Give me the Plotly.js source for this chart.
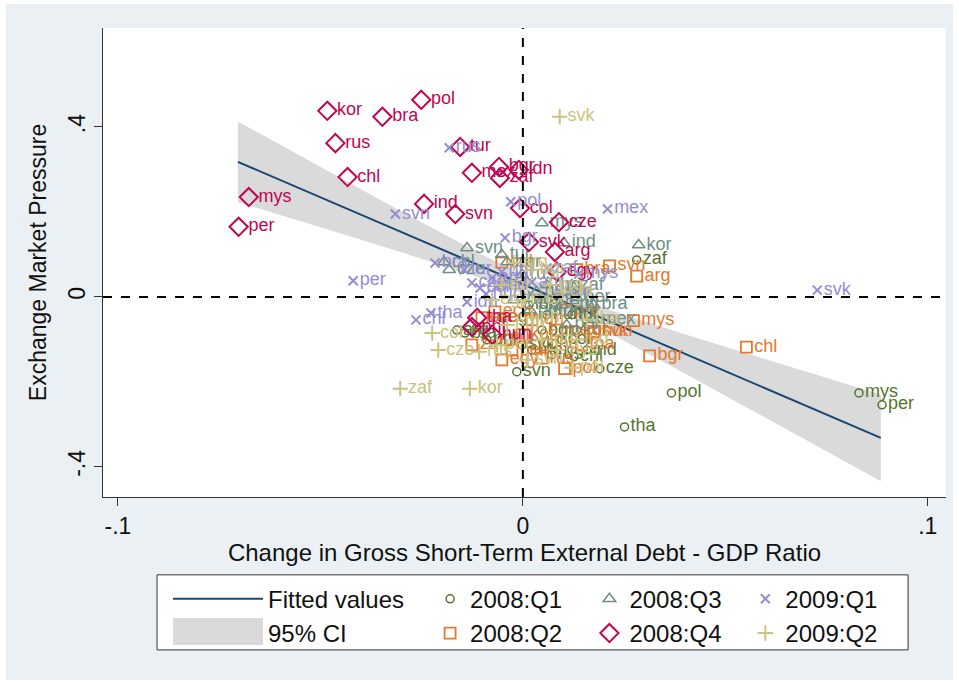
<!DOCTYPE html>
<html><head><meta charset="utf-8">
<script src="https://cdn.plot.ly/plotly-3.0.1.min.js"></script>
<style>html,body{margin:0;padding:0;background:#ffffff;}#chart{position:absolute;left:6px;top:4px;width:947px;height:676px;}</style>
</head><body><div id="chart"></div><script>
// ---- Fitted values and 95% CI ----
const fitX = [-0.0704, 0.0884];
const fitY = [0.318, -0.332];
const ciX  = [-0.0704, -0.05, -0.03, -0.01, 0.005, 0.02, 0.04, 0.06, 0.0884];
const ciHi = [0.413, 0.306, 0.201, 0.099, 0.030, -0.026, -0.088, -0.147, -0.230];
const ciLo = [0.223, 0.164, 0.105, 0.043, -0.010, -0.078, -0.180, -0.284, -0.434];

// ---- 2008:Q1 (circles) ----
const q1Lab = ['zaf','pol','tha','mys','per','cze','svn','ind','chl','idn','bra','arg','bgr','col','egy','hun','kor','mex','phl','rus','svk','tur'];
const q1X = [0.0281,0.0367,0.0251,0.0830,0.0887,0.0190,-0.0015,0.0158,0.0126,0.0015,-0.0143,-0.0163,0.0047,0.0096,-0.0052,0.0059,0.0133,0.0022,-0.0089,0.0071,-0.0002,0.0121];
const q1Y = [0.087,-0.226,-0.306,-0.226,-0.254,-0.169,-0.176,-0.125,-0.141,-0.019,-0.085,-0.078,-0.078,-0.101,-0.049,-0.042,-0.078,-0.125,-0.101,-0.136,-0.113,-0.042];

// ---- 2008:Q2 (squares) ----
const q2Lab = ['chl','bgr','mys','svn','arg','pol','svk','ecu','bra','col','cze','egy','hun','idn','ind','kor','mex','per','phl','rus','tha','tur','zaf'];
const q2X = [0.0552,0.0313,0.0273,0.0214,0.0281,0.0103,0.0175,-0.0069,0.0133,-0.0052,-0.0101,-0.0052,0.0177,0.0022,0.0059,-0.0002,0.0084,-0.0027,0.0108,0.0047,0.0145,-0.0039,-0.0126];
const q2Y = [-0.118,-0.139,-0.056,0.073,0.049,-0.169,-0.082,-0.035,0.064,0.082,-0.049,-0.148,-0.082,-0.054,-0.113,-0.089,-0.078,-0.125,-0.031,-0.144,-0.113,-0.101,-0.113];

// ---- 2008:Q3 (triangles) ----
const q3Lab = ['mys','ind','kor','bra','svn','chl','cze','mex','arg','bgr','col','egy','hun','idn','per','phl','pol','rus','svk','tha','tur','zaf'];
const q3X = [0.0047,0.0101,0.0286,0.0175,-0.0138,-0.0195,-0.0182,0.0175,0.0059,-0.0039,0.0047,0.0096,0.0034,0.0071,0.0133,0.0017,0.0108,-0.0002,0.0084,-0.0022,-0.0052,0.0121];
const q3Y = [0.174,0.127,0.122,-0.019,0.115,0.082,0.064,-0.054,0.028,0.082,-0.007,-0.019,0.012,-0.035,-0.002,-0.031,-0.066,0.052,0.005,-0.007,0.099,0.028];

// ---- 2008:Q4 (diamonds) ----
const q4Lab = ['kor','bra','pol','rus','chl','mys','per','tur','mex','bgr','zaf','idn','ind','svn','col','cze','svk','arg','egy','tha','phl','hun'];
const q4X = [-0.0483,-0.0347,-0.0251,-0.0463,-0.0433,-0.0677,-0.0702,-0.0155,-0.0126,-0.0059,-0.0057,-0.0010,-0.0244,-0.0167,-0.0007,0.0089,0.0015,0.0079,0.0084,-0.0113,-0.0126,-0.0076];
const q4Y = [0.438,0.424,0.464,0.362,0.282,0.235,0.165,0.353,0.292,0.306,0.280,0.299,0.219,0.195,0.209,0.176,0.129,0.106,0.059,-0.049,-0.071,-0.089];

// ---- 2009:Q1 (x) ----
const q5Lab = ['rus','svn','pol','mex','bgr','per','svk','tha','chl','idn','arg','bra','col','cze','egy','hun','ind','kor','mys','phl','zaf','tur'];
const q5X = [-0.0182,-0.0315,-0.0030,0.0209,-0.0044,-0.0419,0.0727,-0.0227,-0.0264,-0.0138,0.0022,-0.0217,-0.0106,-0.0126,-0.0076,-0.0091,-0.0064,0.0091,0.0138,-0.0052,0.0059,-0.0145];
const q5Y = [0.351,0.195,0.224,0.207,0.139,0.038,0.016,-0.038,-0.054,-0.012,0.035,0.080,0.021,0.033,0.045,0.007,0.026,0.012,0.054,0.059,0.068,0.064];

// ---- 2009:Q2 (+) ----
const q6Lab = ['svk','zaf','kor','cze','col','rus','arg','bgr','bra','chl','egy','hun','idn','ind','mex','mys','per','phl','pol','svn','tha','tur'];
const q6X = [0.0091,-0.0303,-0.0131,-0.0209,-0.0224,-0.0108,-0.0022,0.0022,0.0067,0.0096,-0.0076,-0.0039,0.0047,0.0133,-0.0002,0.0084,-0.0064,0.0022,0.0121,0.0010,0.0158,-0.0052];
const q6Y = [0.424,-0.216,-0.216,-0.125,-0.085,-0.129,0.080,0.064,0.028,0.012,-0.007,-0.066,-0.101,-0.101,-0.007,-0.125,-0.113,-0.049,-0.167,-0.148,-0.054,0.028];

const xTicks = [-0.1, 0, 0.1];
const xTickText = ['-.1', '0', '.1'];
const yTicks = [-0.4, 0, 0.4];
const yTickText = ['-.4', '0', '.4'];

const FONT = '"Liberation Sans", Arial, sans-serif';
const C = {navy:'#1a476f', ci:'#dadada', q1:'#55752f', q2:'#e3782e', q3:'#6e8e84', q4:'#c10552', q5:'#938dd2', q6:'#cac27e'};

function series(name, lab, xs, ys, symbol, size, color, lw, legendId, rank) {
  return {type:'scatter', mode:'markers+text', name:name, x:xs, y:ys, text:lab,
    textposition:'middle right', textfont:{family:FONT, size:18, color:color},
    marker:{symbol:symbol, size:size, color:color, line:{color:color, width:lw}},
    legend:legendId, legendrank:rank, hoverinfo:'skip', cliponaxis:false};
}

const ciTrace = {type:'scatter', mode:'lines', name:'95% CI',
  x: ciX.concat(ciX.slice().reverse()), y: ciHi.concat(ciLo.slice().reverse()),
  fill:'toself', fillcolor:C.ci, line:{width:0, color:C.ci}, legend:'legend', legendrank:2, hoverinfo:'skip'};
const fitTrace = {type:'scatter', mode:'lines', name:'Fitted values', x:fitX, y:fitY,
  line:{color:C.navy, width:2}, legend:'legend', legendrank:1, hoverinfo:'skip'};

const data = [ciTrace, fitTrace,
  series('2008:Q1', q1Lab, q1X, q1Y, 'circle-open', 8, C.q1, 1.5, 'legend2', 1),
  series('2008:Q2', q2Lab, q2X, q2Y, 'square-open', 11, C.q2, 1.8, 'legend2', 2),
  series('2008:Q3', q3Lab, q3X, q3Y, 'triangle-up-open', 11, C.q3, 1.5, 'legend3', 1),
  series('2008:Q4', q4Lab, q4X, q4Y, 'diamond-open', 14, C.q4, 2, 'legend3', 2),
  series('2009:Q1', q5Lab, q5X, q5Y, 'x-thin-open', 9, C.q5, 2, 'legend4', 1),
  series('2009:Q2', q6Lab, q6X, q6Y, 'cross-thin-open', 11, C.q6, 2, 'legend4', 2)
];

function leg(x, iw) {
  return {x:x, y:-0.170, xanchor:'left', yanchor:'top', orientation:'v', bgcolor:'rgba(0,0,0,0)',
    borderwidth:0, font:{family:FONT, size:24, color:'#111111'}, tracegroupgap:0, itemwidth:iw, traceorder:'normal'};
}

const layout = {
  width:947, height:676,
  margin:{l:97, r:7, t:24, b:183},
  paper_bgcolor:'#eaf0f3', plot_bgcolor:'#ffffff',
  font:{family:FONT, size:23, color:'#111111'},
  showlegend:true,
  legend: leg(0.0771, 90),
  legend2: leg(0.388, 30),
  legend3: leg(0.577, 30),
  legend4: leg(0.762, 30),
  xaxis:{range:[-0.1037, 0.1045], tickvals:xTicks, ticktext:xTickText, ticks:'outside', ticklen:8, tickcolor:'#333',
    showline:true, linecolor:'#333', linewidth:1, showgrid:false, zeroline:false,
    tickfont:{family:FONT, size:23, color:'#111'},
    title:{text:'Change in Gross Short-Term External Debt - GDP Ratio', font:{family:FONT, size:24, color:'#111'}, standoff:0}},
  yaxis:{range:[-0.471, 0.633], tickvals:yTicks, ticktext:yTickText, ticks:'outside', ticklen:8, tickcolor:'#333', tickangle:-90,
    showline:true, linecolor:'#333', linewidth:1, showgrid:false, zeroline:false,
    tickfont:{family:FONT, size:23, color:'#111'},
    title:{text:'Exchange Market Pressure', font:{family:FONT, size:23, color:'#111'}, standoff:10}},
  shapes:[
    {type:'line', xref:'x', yref:'paper', x0:0, x1:0, y0:0, y1:1, line:{color:'#000', width:2, dash:'dash'}, layer:'above'},
    {type:'line', xref:'paper', yref:'y', x0:0, x1:1, y0:0, y1:0, line:{color:'#000', width:2, dash:'dash'}, layer:'above'},
    {type:'rect', xref:'paper', yref:'paper', x0:0.0641, x1:0.955, y0:-0.326, y1:-0.166, fillcolor:'#ffffff', line:{color:'#333', width:1}, layer:'below'},
    {type:'rect', xref:'paper', yref:'paper', x0:0.0830, x1:0.1898, y0:-0.3156, y1:-0.258, fillcolor:'#dadada', line:{width:0}, layer:'below'}
  ]
};

Plotly.newPlot('chart', data, layout, {displayModeBar:false, staticPlot:true});
</script></body></html>
